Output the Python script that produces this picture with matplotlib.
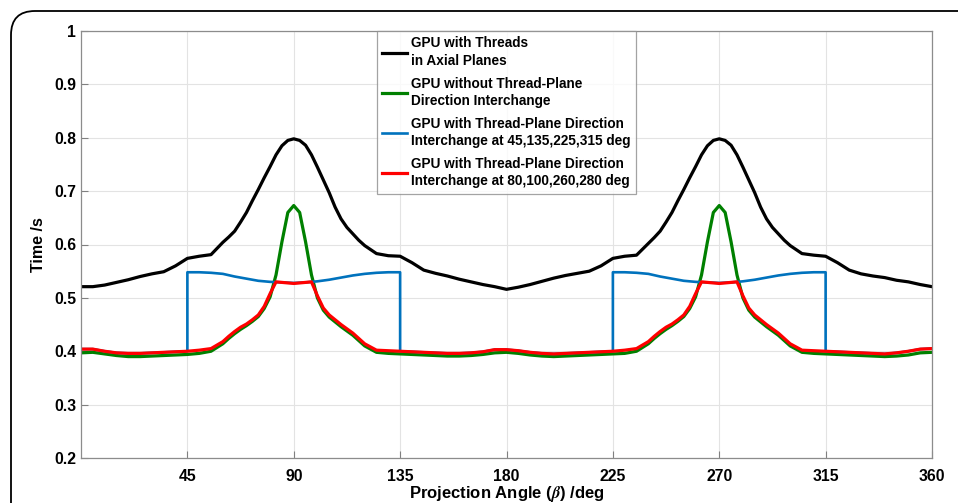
import matplotlib
matplotlib.use("Agg")
import matplotlib.pyplot as plt
from matplotlib.patches import FancyBboxPatch

plt.rcParams['font.family'] = ['Liberation Sans', 'DejaVu Sans']
plt.rcParams['font.weight'] = 'bold'
plt.rcParams['mathtext.fontset'] = 'stix'

# ---- data ----
angles = [0, 5, 10, 15, 20, 25, 30, 35, 40, 45, 50, 55, 60,
          62.5, 65, 67.5, 70, 72.5, 75, 77.5, 80, 82.5, 85, 87.5, 90,
          92.5, 95, 97.5, 100, 102.5, 105, 107.5, 110, 112.5, 115, 117.5, 120,
          125, 130, 135, 140, 145, 150, 155, 160, 165, 170, 175,
          180,
          185, 190, 195, 200, 205, 210, 215, 220, 225, 230, 235, 240,
          242.5, 245, 247.5, 250, 252.5, 255, 257.5, 260, 262.5, 265, 267.5, 270,
          272.5, 275, 277.5, 280, 282.5, 285, 287.5, 290, 292.5, 295, 297.5, 300,
          305, 310, 315, 320, 325, 330, 335, 340, 345, 350, 355, 360]

axial = [0.521, 0.521, 0.524, 0.529, 0.534, 0.540, 0.545, 0.549, 0.560, 0.574, 0.578, 0.581, 0.604,
         0.614, 0.625, 0.642, 0.660, 0.682, 0.703, 0.725, 0.746, 0.768, 0.785, 0.795, 0.798,
         0.795, 0.786, 0.768, 0.745, 0.721, 0.697, 0.670, 0.648, 0.632, 0.620, 0.608, 0.598,
         0.583, 0.579, 0.578, 0.566, 0.552, 0.546, 0.541, 0.535, 0.530, 0.525, 0.521,
         0.516,
         0.520, 0.525, 0.531, 0.537, 0.542, 0.546, 0.550, 0.560, 0.574, 0.578, 0.580, 0.602,
         0.613, 0.625, 0.642, 0.660, 0.682, 0.703, 0.725, 0.746, 0.768, 0.785, 0.795, 0.798,
         0.795, 0.786, 0.768, 0.745, 0.721, 0.697, 0.670, 0.648, 0.632, 0.620, 0.608, 0.598,
         0.583, 0.580, 0.578, 0.566, 0.552, 0.545, 0.541, 0.538, 0.533, 0.530, 0.525, 0.521]

no_interchange = [0.397, 0.398, 0.395, 0.392, 0.390, 0.390, 0.391, 0.392, 0.393, 0.394, 0.396, 0.400, 0.414,
                  0.424, 0.433, 0.441, 0.448, 0.456, 0.465, 0.480, 0.502, 0.543, 0.605, 0.660, 0.673,
                  0.660, 0.605, 0.543, 0.500, 0.477, 0.464, 0.455, 0.446, 0.438, 0.430, 0.420, 0.410,
                  0.398, 0.396, 0.395, 0.394, 0.393, 0.392, 0.391, 0.391, 0.392, 0.394, 0.397,
                  0.398,
                  0.396, 0.393, 0.391, 0.390, 0.391, 0.392, 0.393, 0.394, 0.395, 0.396, 0.400, 0.414,
                  0.424, 0.433, 0.441, 0.448, 0.456, 0.465, 0.480, 0.502, 0.543, 0.605, 0.660, 0.673,
                  0.660, 0.605, 0.543, 0.500, 0.477, 0.464, 0.455, 0.446, 0.438, 0.430, 0.420, 0.410,
                  0.398, 0.396, 0.395, 0.394, 0.393, 0.392, 0.391, 0.390, 0.391, 0.393, 0.397, 0.398]

interchange_80 = [0.404, 0.404, 0.400, 0.397, 0.396, 0.396, 0.397, 0.398, 0.399, 0.400, 0.402, 0.405, 0.418,
                  0.428, 0.437, 0.445, 0.451, 0.459, 0.468, 0.484, 0.508, 0.530, 0.529, 0.528, 0.527,
                  0.528, 0.529, 0.530, 0.504, 0.481, 0.468, 0.459, 0.450, 0.442, 0.434, 0.424, 0.414,
                  0.402, 0.401, 0.400, 0.399, 0.398, 0.397, 0.396, 0.396, 0.397, 0.399, 0.403,
                  0.403,
                  0.401, 0.398, 0.396, 0.395, 0.396, 0.397, 0.398, 0.399, 0.400, 0.402, 0.405, 0.418,
                  0.428, 0.437, 0.445, 0.451, 0.459, 0.468, 0.484, 0.508, 0.530, 0.529, 0.528, 0.527,
                  0.528, 0.529, 0.530, 0.504, 0.481, 0.468, 0.459, 0.450, 0.442, 0.434, 0.424, 0.414,
                  0.402, 0.401, 0.400, 0.399, 0.398, 0.397, 0.396, 0.395, 0.397, 0.400, 0.404, 0.405]

blue_angles = [0, 5, 10, 15, 20, 25, 30, 35, 40, 45, 45, 50, 55, 60, 65, 70, 75, 80, 85, 90, 95,
               100, 105, 110, 115, 120, 125, 130, 135, 135, 140, 145, 150, 155, 160, 165, 170,
               175, 180, 185, 190, 195, 200, 205, 210, 215, 220, 225, 225, 230, 235, 240, 245,
               250, 255, 260, 265, 270, 275, 280, 285, 290, 295, 300, 305, 310, 315, 315, 320,
               325, 330, 335, 340, 345, 350, 355, 360]
interchange_45 = [0.404, 0.404, 0.400, 0.397, 0.396, 0.396, 0.397, 0.398, 0.399, 0.400, 0.548,
                  0.548, 0.547, 0.545, 0.540, 0.536, 0.532, 0.530, 0.529, 0.528, 0.529, 0.531,
                  0.534, 0.538, 0.542, 0.545, 0.547, 0.548, 0.548, 0.400, 0.399, 0.398, 0.397,
                  0.396, 0.396, 0.397, 0.399, 0.403, 0.403, 0.401, 0.398, 0.396, 0.395, 0.396,
                  0.397, 0.398, 0.399, 0.400, 0.548, 0.548, 0.547, 0.545, 0.540, 0.536, 0.532,
                  0.530, 0.529, 0.528, 0.529, 0.531, 0.534, 0.538, 0.542, 0.545, 0.547, 0.548,
                  0.548, 0.400, 0.399, 0.398, 0.397, 0.396, 0.395, 0.397, 0.400, 0.404, 0.405]

labels = ["GPU with Threads\nin Axial Planes",
          "GPU without Thread-Plane\nDirection Interchange",
          "GPU with Thread-Plane Direction\nInterchange at 45,135,225,315 deg",
          "GPU with Thread-Plane Direction\nInterchange at 80,100,260,280 deg"]
colors = ['#000000', '#008000', '#0072BD', '#FF0000']
xticks = [45, 90, 135, 180, 225, 270, 315, 360]
yticks = [0.2, 0.3, 0.4, 0.5, 0.6, 0.7, 0.8, 0.9, 1.0]
ytick_labels = ['0.2', '0.3', '0.4', '0.5', '0.6', '0.7', '0.8', '0.9', '1']

# ---- figure ----
W, H = 958, 503
fig = plt.figure(figsize=(W / 100, H / 100), dpi=100)

# rounded outer frame (top-left corner visible)
frame = FancyBboxPatch((11 / W, -0.2), 1.2, (H - 11) / H + 0.2,
                       boxstyle="round,pad=0,rounding_size=0.025",
                       transform=fig.transFigure, fill=False, edgecolor='black',
                       linewidth=1.3, mutation_aspect=W / H)
fig.patches.append(frame)

ax = fig.add_axes([81 / W, 1 - 458 / H, (932 - 81) / W, (458 - 31) / H])

ax.plot(angles, axial, color=colors[0], lw=2.3, label=labels[0])
ax.plot(angles, no_interchange, color=colors[1], lw=2.3, label=labels[1])
ax.plot(blue_angles, interchange_45, color=colors[2], lw=1.9, label=labels[2])
ax.plot(angles, interchange_80, color=colors[3], lw=2.3, label=labels[3])

ax.set_xlim(0, 360)
ax.set_ylim(0.2, 1.0)
ax.set_xticks(xticks)
ax.set_yticks(yticks)
ax.set_yticklabels(ytick_labels)
ax.tick_params(direction='in', length=5, width=0.8, color='#808080', labelsize=11.3)
ax.tick_params(axis='x', pad=8)
ax.tick_params(axis='y', pad=3.5)
for lab in ax.get_xticklabels() + ax.get_yticklabels():
    lab.set_fontweight('bold')
ax.grid(True, color='#e3e3e3', linewidth=0.8)
ax.set_axisbelow(True)
for s in ax.spines.values():
    s.set_color('#8c8c8c')
    s.set_linewidth(0.9)

ax.set_xlabel(r'Projection Angle ($\beta$) /deg', fontsize=12, fontweight='bold', labelpad=0)
ax.set_ylabel('Time /s', fontsize=11.5, fontweight='bold', labelpad=6)

leg = ax.legend(loc='upper center', bbox_to_anchor=(0.5, 1.0), fontsize=9.8,
                frameon=True, fancybox=False, handlelength=1.85, handletextpad=0.3,
                borderpad=0.4, labelspacing=0.65, borderaxespad=0)
leg.get_frame().set_edgecolor('#8c8c8c')
leg.get_frame().set_linewidth(0.9)
for t in leg.get_texts():
    t.set_fontweight('bold')
    t.set_linespacing(1.3)

fig.savefig('out.png', dpi=100)
